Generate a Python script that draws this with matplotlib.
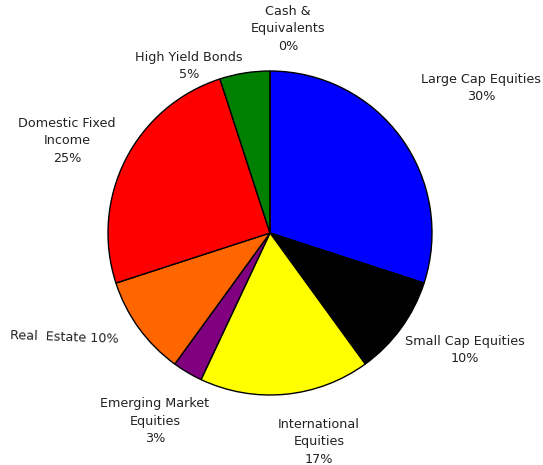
import matplotlib.pyplot as plt

# Asset allocation, clockwise from 12 o'clock
categories = ['Large Cap Equities', 'Small Cap Equities', 'International\nEquities',
              'Emerging Market\nEquities', 'Real  Estate', 'Domestic Fixed\nIncome',
              'High Yield Bonds', 'Cash &\nEquivalents']
weights = [30, 10, 17, 3, 10, 25, 5, 0]
colors = ['#0000ff', '#000000', '#ffff00', '#800080', '#ff6600', '#ff0000', '#008000', '#ffffff']

W, H = 543, 465
fig = plt.figure(figsize=(W / 100, H / 100), dpi=100)
ax = fig.add_axes([0, 0, 1, 1])

# pie drawn in pixel space (y measured from the bottom)
cx, cy, r = 270, H - 233, 162
ax.pie(weights, colors=colors, startangle=90, counterclock=False,
       center=(cx, cy), radius=r,
       wedgeprops=dict(edgecolor='black', linewidth=1.0))

# label anchors (x, y from top, ha)
label_pos = [
    (481, 88, 'center'),
    (465, 350, 'center'),
    (319, 442, 'center'),
    (155, 421, 'center'),
    (10, 337, 'left'),
    (67, 141, 'center'),
    (189, 66, 'center'),
    (288, 29, 'center'),
]

for name, val, (x, y, ha) in zip(categories, weights, label_pos):
    if ha == 'left':
        text = f'{name} {val}%'
        rot = -2
    else:
        text = f'{name}\n{val}%'
        rot = 0
    ax.text(x, H - y, text, ha=ha, va='center', fontsize=9.2,
            linespacing=1.45, rotation=rot, color='#222222')

ax.set_xlim(0, W)
ax.set_ylim(0, H)
ax.set_aspect('equal')
ax.axis('off')

plt.savefig('out.png', dpi=100)
